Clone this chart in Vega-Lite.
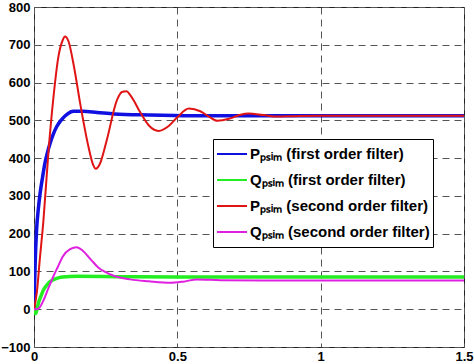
{
  "$schema": "https://vega.github.io/schema/vega-lite/v6.json",
  "autosize": "none",
  "width": 430,
  "height": 340,
  "padding": {"left": 34, "top": 7, "right": 10, "bottom": 17},
  "background": "white",
  "config": {
    "view": {"stroke": "#222", "strokeWidth": 1},
    "font": "Liberation Sans",
    "axis": {
      "labelFont": "Liberation Sans",
      "labelFontSize": 13,
      "labelFontWeight": "bold",
      "labelColor": "#000",
      "grid": true,
      "gridColor": "#555",
      "gridDash": [7, 5],
      "gridWidth": 1,
      "gridOpacity": 1,
      "ticks": false,
      "domain": false,
      "title": null,
      "labelOverlap": false,
      "labelFlush": false
    }
  },
  "data": {
    "values": [
      {"s": "P1", "t": 0, "v": 0},
      {"s": "P1", "t": 0.004, "v": 120},
      {"s": "P1", "t": 0.009, "v": 210},
      {"s": "P1", "t": 0.015, "v": 265},
      {"s": "P1", "t": 0.021, "v": 305},
      {"s": "P1", "t": 0.03, "v": 350},
      {"s": "P1", "t": 0.038, "v": 386},
      {"s": "P1", "t": 0.047, "v": 415},
      {"s": "P1", "t": 0.056, "v": 439},
      {"s": "P1", "t": 0.067, "v": 463},
      {"s": "P1", "t": 0.079, "v": 483},
      {"s": "P1", "t": 0.09, "v": 496},
      {"s": "P1", "t": 0.1, "v": 505},
      {"s": "P1", "t": 0.115, "v": 516},
      {"s": "P1", "t": 0.137, "v": 524},
      {"s": "P1", "t": 0.17, "v": 524},
      {"s": "P1", "t": 0.22, "v": 521},
      {"s": "P1", "t": 0.28, "v": 517},
      {"s": "P1", "t": 0.4, "v": 514},
      {"s": "P1", "t": 0.55, "v": 512},
      {"s": "P1", "t": 0.8, "v": 512},
      {"s": "P1", "t": 1.0, "v": 512},
      {"s": "P1", "t": 1.5, "v": 512},
      {"s": "Q1", "t": 0, "v": 0},
      {"s": "Q1", "t": 0.004, "v": -12},
      {"s": "Q1", "t": 0.009, "v": -5},
      {"s": "Q1", "t": 0.015, "v": 15},
      {"s": "Q1", "t": 0.025, "v": 36},
      {"s": "Q1", "t": 0.033, "v": 51},
      {"s": "Q1", "t": 0.045, "v": 64},
      {"s": "Q1", "t": 0.056, "v": 73},
      {"s": "Q1", "t": 0.07, "v": 79},
      {"s": "Q1", "t": 0.085, "v": 83},
      {"s": "Q1", "t": 0.1, "v": 85},
      {"s": "Q1", "t": 0.15, "v": 87},
      {"s": "Q1", "t": 0.3, "v": 86},
      {"s": "Q1", "t": 0.5, "v": 85},
      {"s": "Q1", "t": 1.0, "v": 85},
      {"s": "Q1", "t": 1.5, "v": 85},
      {"s": "P2", "t": 0, "v": 0},
      {"s": "P2", "t": 0.01, "v": 45},
      {"s": "P2", "t": 0.02, "v": 130},
      {"s": "P2", "t": 0.033, "v": 236},
      {"s": "P2", "t": 0.05, "v": 412},
      {"s": "P2", "t": 0.068, "v": 562},
      {"s": "P2", "t": 0.085, "v": 668},
      {"s": "P2", "t": 0.1, "v": 712},
      {"s": "P2", "t": 0.108, "v": 722},
      {"s": "P2", "t": 0.12, "v": 710},
      {"s": "P2", "t": 0.14, "v": 640},
      {"s": "P2", "t": 0.161, "v": 545},
      {"s": "P2", "t": 0.19, "v": 430},
      {"s": "P2", "t": 0.205, "v": 385},
      {"s": "P2", "t": 0.216, "v": 372},
      {"s": "P2", "t": 0.23, "v": 385},
      {"s": "P2", "t": 0.254, "v": 448},
      {"s": "P2", "t": 0.289, "v": 553},
      {"s": "P2", "t": 0.307, "v": 575},
      {"s": "P2", "t": 0.322, "v": 577},
      {"s": "P2", "t": 0.34, "v": 562},
      {"s": "P2", "t": 0.37, "v": 522},
      {"s": "P2", "t": 0.4, "v": 487},
      {"s": "P2", "t": 0.435, "v": 472},
      {"s": "P2", "t": 0.47, "v": 485},
      {"s": "P2", "t": 0.5, "v": 508},
      {"s": "P2", "t": 0.54, "v": 531},
      {"s": "P2", "t": 0.58, "v": 524},
      {"s": "P2", "t": 0.61, "v": 510},
      {"s": "P2", "t": 0.639, "v": 499},
      {"s": "P2", "t": 0.68, "v": 504},
      {"s": "P2", "t": 0.72, "v": 515},
      {"s": "P2", "t": 0.749, "v": 518},
      {"s": "P2", "t": 0.8, "v": 514},
      {"s": "P2", "t": 0.85, "v": 510},
      {"s": "P2", "t": 0.9, "v": 511},
      {"s": "P2", "t": 1.0, "v": 512},
      {"s": "P2", "t": 1.5, "v": 512},
      {"s": "Q2", "t": 0, "v": 0},
      {"s": "Q2", "t": 0.009, "v": 0},
      {"s": "Q2", "t": 0.02, "v": 5},
      {"s": "Q2", "t": 0.033, "v": 23},
      {"s": "Q2", "t": 0.05, "v": 55},
      {"s": "Q2", "t": 0.067, "v": 86},
      {"s": "Q2", "t": 0.085, "v": 115},
      {"s": "Q2", "t": 0.1, "v": 139},
      {"s": "Q2", "t": 0.126, "v": 159},
      {"s": "Q2", "t": 0.149, "v": 164},
      {"s": "Q2", "t": 0.17, "v": 155},
      {"s": "Q2", "t": 0.2, "v": 130},
      {"s": "Q2", "t": 0.225, "v": 110},
      {"s": "Q2", "t": 0.248, "v": 99},
      {"s": "Q2", "t": 0.28, "v": 88},
      {"s": "Q2", "t": 0.336, "v": 79},
      {"s": "Q2", "t": 0.4, "v": 74},
      {"s": "Q2", "t": 0.476, "v": 70},
      {"s": "Q2", "t": 0.52, "v": 73},
      {"s": "Q2", "t": 0.569, "v": 79},
      {"s": "Q2", "t": 0.65, "v": 77},
      {"s": "Q2", "t": 0.8, "v": 76},
      {"s": "Q2", "t": 1.0, "v": 76},
      {"s": "Q2", "t": 1.5, "v": 76}
    ]
  },
  "encoding": {
    "x": {
      "field": "t",
      "type": "quantitative",
      "scale": {"domain": [0, 1.5], "nice": false},
      "axis": {"values": [0, 0.5, 1, 1.5], "format": "~g", "labelPadding": 3}
    },
    "y": {
      "field": "v",
      "type": "quantitative",
      "scale": {"domain": [-100, 800], "nice": false},
      "axis": {"values": [-100, 0, 100, 200, 300, 400, 500, 600, 700, 800], "labelPadding": 4}
    },
    "color": {
      "field": "s",
      "type": "nominal",
      "scale": {
        "domain": ["P1", "Q1", "P2", "Q2"],
        "range": ["#1010e0", "#22ee22", "#e01414", "#e020e0"]
      },
      "legend": {
        "title": null,
        "orient": "none",
        "legendX": 179,
        "legendY": 132,
        "labelExpr": "datum.value == 'P1' ? 'Pₚₛᵢₘ (first order filter)' : datum.value == 'Q1' ? 'Qₚₛᵢₘ (first order filter)' : datum.value == 'P2' ? 'Pₚₛᵢₘ (second order filter)' : 'Qₚₛᵢₘ (second order filter)'",
        "labelFont": "Liberation Sans",
        "labelFontSize": 15,
        "labelFontWeight": "bold",
        "labelColor": "#000",
        "labelOffset": 2,
        "labelLimit": 300,
        "symbolType": "stroke",
        "symbolSize": 900,
        "symbolStrokeWidth": 2,
        "symbolOffset": 0,
        "clipHeight": 24,
        "rowPadding": 2,
        "padding": 3,
        "strokeColor": "#000",
        "fillColor": "#fff"
      }
    }
  },
  "layer": [
    {
      "transform": [{"filter": "datum.s == 'P1' || datum.s == 'Q1'"}],
      "mark": {"type": "line", "clip": true, "strokeWidth": 3.5, "interpolate": "monotone"}
    },
    {
      "transform": [{"filter": "datum.s == 'P2' || datum.s == 'Q2'"}],
      "mark": {"type": "line", "clip": true, "strokeWidth": 2, "interpolate": "monotone"}
    }
  ]
}
